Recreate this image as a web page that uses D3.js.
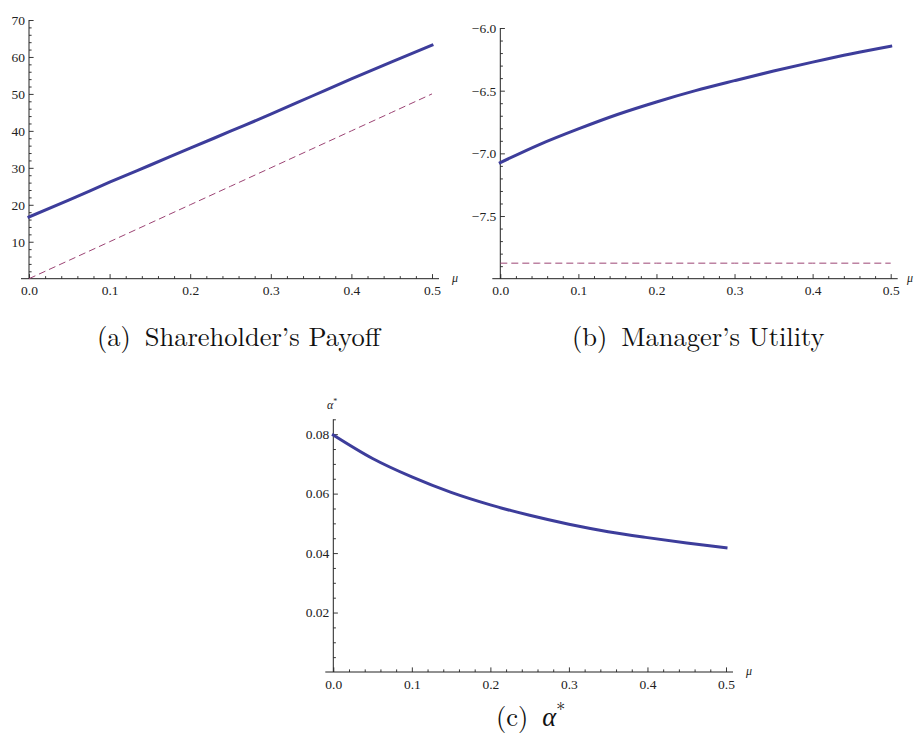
<!DOCTYPE html>
<html><head><meta charset="utf-8">
<script src="https://cdn.jsdelivr.net/npm/d3@7"></script>
<style>body{margin:0;background:#fff}svg{display:block}</style>
</head><body>
<script>
// ---- data ----
const mu = [0, 0.05, 0.1, 0.15, 0.2, 0.25, 0.3, 0.35, 0.4, 0.45, 0.5];
const payoff = [16.7, 21.3, 26.1, 30.7, 35.3, 39.9, 44.5, 49.3, 54.1, 58.7, 63.2];
const payoffBenchmark = [0, 5, 10, 15, 20, 25, 30, 35, 40, 45, 50];
const utility = [-7.074, -6.930, -6.805, -6.690, -6.590, -6.500, -6.420, -6.343, -6.272, -6.205, -6.145];
const reservationUtility = [-7.876, -7.876, -7.876, -7.876, -7.876, -7.876, -7.876, -7.876, -7.876, -7.876, -7.876];
const alphaStar = [0.0797, 0.0718, 0.0656, 0.0604, 0.0562, 0.0527, 0.0497, 0.0472, 0.0452, 0.0434, 0.0418];
const xTicks = [0, 0.1, 0.2, 0.3, 0.4, 0.5];
const yTicksA = [10, 20, 30, 40, 50, 60, 70];
const yTicksB = [-7.5, -7.0, -6.5, -6.0];
const yTicksC = [0.02, 0.04, 0.06, 0.08];
const captionTags = ["(a)", "(b)"];
const captionTexts = ["Shareholder\u2019s Payoff", "Manager\u2019s Utility"];

const W = 915, H = 745;
const svg = d3.select("body").append("svg").attr("width", W).attr("height", H);
const BLUE = "#3d3d9b", PURP = "#9c4474", AX = "#222";
const TICKF = '"Liberation Serif"', CAPF = '"Latin Modern Roman"';

function panel(o) {
  const x = d3.scaleLinear().domain([0, 0.5]).range([o.x0, o.x1]);
  const y = d3.scaleLinear().domain(o.yDomain).range([o.yb, o.yt]);
  const g = svg.append("g");
  const xMinor = d3.range(0, 0.5001, 0.02).filter(v => Math.abs(v * 10 - Math.round(v * 10)) > 1e-6);
  g.append("g").attr("transform", `translate(0,${o.yb})`)
    .call(d3.axisBottom(x).tickValues(xMinor).tickFormat("").tickSize(-2.6).tickSizeOuter(0))
    .call(s => s.select(".domain").remove());
  const yMinor = d3.range(o.yDomain[0], o.yDomain[1] + 1e-9, o.yMinorStep)
    .filter(v => !o.yTicks.some(t => Math.abs(t - v) < 1e-9) && Math.abs(v - o.yDomain[0]) > 1e-9);
  g.append("g").attr("transform", `translate(${o.x0},0)`)
    .call(d3.axisLeft(y).tickValues(yMinor).tickFormat("").tickSize(-2.6).tickSizeOuter(0))
    .call(s => s.select(".domain").remove());
  const xa = g.append("g").attr("transform", `translate(0,${o.yb})`)
    .call(d3.axisBottom(x).tickValues(xTicks).tickFormat(d3.format(".1f")).tickSize(-4.6).tickPadding(7).tickSizeOuter(0));
  xa.select(".domain").remove();
  const ya = g.append("g").attr("transform", `translate(${o.x0},0)`)
    .call(d3.axisLeft(y).tickValues(o.yTicks).tickFormat(o.yFmt).tickSize(-4.6).tickPadding(4).tickSizeOuter(0));
  ya.select(".domain").remove();
  g.selectAll(".tick line").attr("stroke", AX).attr("stroke-width", 0.9);
  g.selectAll(".tick text").attr("font-family", null).style("font-family", TICKF)
    .style("font-size", "13.5px").attr("fill", AX);
  g.append("line").attr("x1", x(0) - 8).attr("x2", x(0.5) + 7).attr("y1", o.yb).attr("y2", o.yb)
    .attr("stroke", AX).attr("stroke-width", 1);
  g.append("line").attr("x1", o.x0).attr("x2", o.x0).attr("y1", o.yb).attr("y2", o.yt)
    .attr("stroke", AX).attr("stroke-width", 1);
  g.append("text").attr("x", Math.min(x(0.5) + 20, W - 8)).attr("y", o.yb + 3)
    .style("font-family", TICKF).style("font-style", "italic").style("font-size", "12px")
    .attr("fill", AX).text("\u03bc");
  const line = d3.line().x((d, i) => x(mu[i])).y(d => y(d)).curve(d3.curveMonotoneX);
  o.series.forEach(s => {
    g.append("path").attr("d", line(s.values)).attr("fill", "none")
      .attr("stroke", s.color).attr("stroke-width", s.width)
      .attr("stroke-dasharray", s.dash || null).attr("stroke-linecap", s.dash ? "butt" : "square");
  });
  return {x, y, g};
}

panel({x0: 29, x1: 432, yb: 278.7, yt: 20, yDomain: [0, 70], yTicks: yTicksA, yMinorStep: 2,
  yFmt: d3.format("d"),
  series: [{values: payoffBenchmark, color: PURP, width: 1, dash: "7,4"},
           {values: payoff, color: BLUE, width: 3}]});

panel({x0: 500.3, x1: 890.7, yb: 278.7, yt: 28, yDomain: [-8, -6], yTicks: yTicksB, yMinorStep: 0.1,
  yFmt: d3.format(".1f"),
  series: [{values: reservationUtility, color: PURP, width: 1, dash: "7,4"},
           {values: utility, color: BLUE, width: 3}]});

panel({x0: 333.3, x1: 726, yb: 672, yt: 419.3, yDomain: [0, 0.085], yTicks: yTicksC, yMinorStep: 0.005,
  yFmt: d3.format(".2f"),
  series: [{values: alphaStar, color: BLUE, width: 3}]});

const al = svg.append("text").attr("x", 327).attr("y", 409)
  .style("font-family", TICKF).style("font-size", "12px").attr("fill", AX);
al.append("tspan").style("font-style", "italic").text("\u03b1");
al.append("tspan").style("font-size", "8px").attr("dy", -5).text("*");

const capX = [97, 572];
captionTags.forEach((t, i) => {
  const c = svg.append("text").attr("x", capX[i]).attr("y", 346)
    .style("font-family", CAPF).style("font-size", "26.5px").attr("fill", "#111");
  c.append("tspan").text(t + " ");
  c.append("tspan").attr("dx", 5).text(captionTexts[i]);
});
const cc = svg.append("text").attr("x", 496).attr("y", 726)
  .style("font-family", CAPF).style("font-size", "26.5px").attr("fill", "#111");
cc.append("tspan").text("(c) ");
cc.append("tspan").attr("dx", 5).style("font-style", "italic").text("\u03b1");
cc.append("tspan").style("font-size", "18px").attr("dy", -10).text("*");
</script>
</body></html>
